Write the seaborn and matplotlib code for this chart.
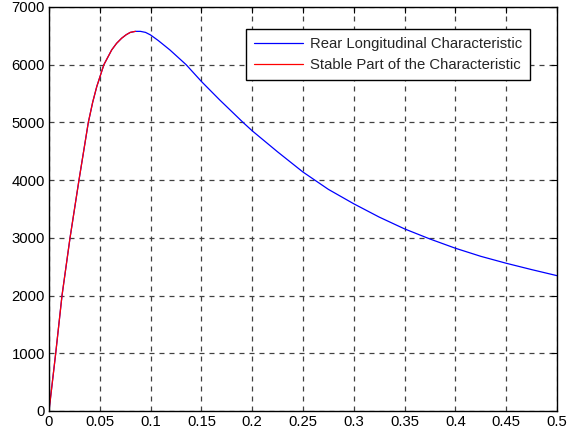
import matplotlib
matplotlib.use("Agg")
import matplotlib.pyplot as plt
import seaborn as sns
import pandas as pd

slip = [0.0, 0.0066, 0.0128, 0.0207, 0.0295, 0.0387, 0.043, 0.047, 0.054, 0.0617, 0.0665,
        0.0715, 0.076, 0.08, 0.085, 0.09, 0.095, 0.1, 0.1076, 0.119, 0.135, 0.15, 0.168,
        0.191, 0.2, 0.225, 0.25, 0.275, 0.3, 0.325, 0.35, 0.375, 0.4, 0.425,
        0.45, 0.475, 0.5]
force = [0, 1000, 2000, 3000, 4000, 5000, 5350, 5620, 6000, 6256, 6370,
         6459, 6520, 6560, 6578, 6578, 6560, 6515, 6418, 6256, 6000, 5710, 5390,
         5000, 4855, 4490, 4140, 3840, 3590, 3360, 3155, 2980, 2820, 2680,
         2560, 2450, 2345]

stable_slip = [0.0, 0.0066, 0.0128, 0.0207, 0.0295, 0.0387, 0.043, 0.047, 0.054,
               0.0617, 0.0665, 0.0715, 0.076, 0.08, 0.085]
stable_force = [0, 1000, 2000, 3000, 4000, 5000, 5350, 5620, 6000, 6256, 6370, 6459,
                6520, 6560, 6578]

labels = ["Rear Longitudinal Characteristic", "Stable Part of the Characteristic"]
xticks = [0, 0.05, 0.1, 0.15, 0.2, 0.25, 0.3, 0.35, 0.4, 0.45, 0.5]
xticklabels = ["0", "0.05", "0.1", "0.15", "0.2", "0.25", "0.3", "0.35", "0.4", "0.45", "0.5"]
yticks = [0, 1000, 2000, 3000, 4000, 5000, 6000, 7000]

sns.set_style("white")
plt.rcParams["font.family"] = ["Liberation Sans", "DejaVu Sans"]

fig = plt.figure(figsize=(5.68, 4.38), dpi=100)
ax = fig.add_axes([49/568, 1-411/438, 508/568, 404/438])

df_all = pd.DataFrame({"x": slip, "y": force})
df_st = pd.DataFrame({"x": stable_slip, "y": stable_force})
sns.lineplot(data=df_all, x="x", y="y", ax=ax, color="#0000ff", lw=0.9, label=labels[0], sort=False)
sns.lineplot(data=df_st, x="x", y="y", ax=ax, color="#ff0000", lw=0.9, label=labels[1], sort=False)

ax.set_xlim(0, 0.5)
ax.set_ylim(0, 7000)
ax.set_xticks(xticks)
ax.set_xticklabels(xticklabels)
ax.set_yticks(yticks)
ax.set_xlabel("")
ax.set_ylabel("")
ax.grid(True, color="#404040", linestyle=(0, (4, 4)), linewidth=0.9)
ax.tick_params(direction="in", length=4, width=0.8, top=True, right=True,
               labelsize=10.7, colors="black", pad=3)
for s in ax.spines.values():
    s.set_color("black")
    s.set_linewidth(1.0)
    s.set_visible(True)

leg = ax.legend(loc="upper right", bbox_to_anchor=((530-49)/508, 1-(29.3-7)/404),
                borderaxespad=0, frameon=True, fancybox=False, fontsize=10.7,
                edgecolor="black", framealpha=1, handlelength=3.3, handletextpad=0.45,
                labelspacing=0.45, borderpad=0.55)
leg.get_frame().set_linewidth(1.0)

fig.savefig("out.png", dpi=100)
